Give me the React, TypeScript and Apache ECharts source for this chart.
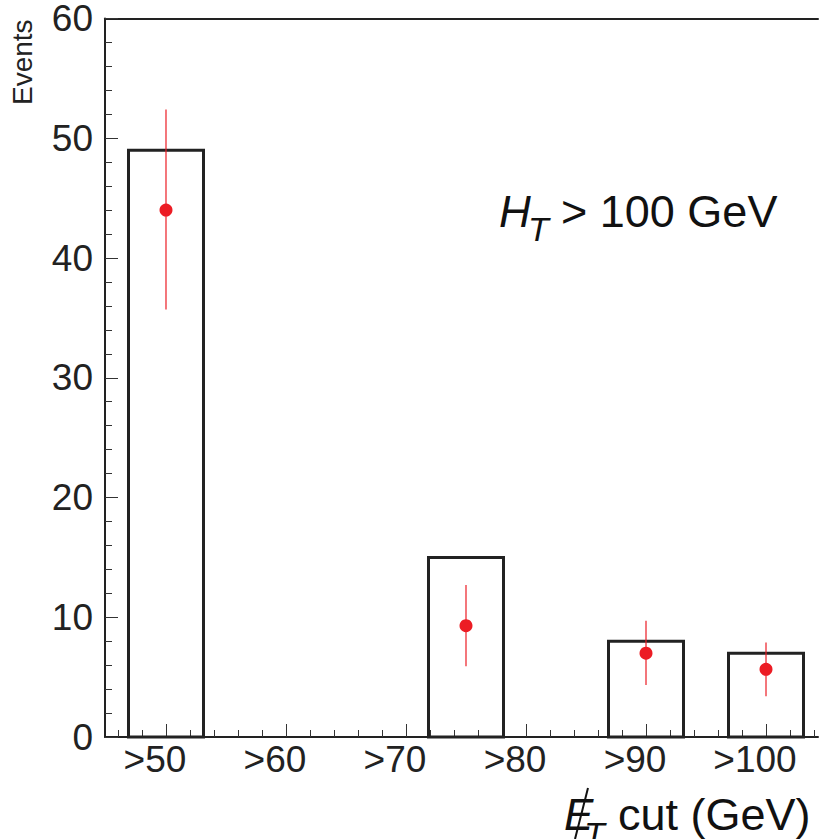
import React, { useEffect, useRef } from "react";
import * as echarts from "echarts";

// Data
const CUT_POSITIONS = [50, 60, 70, 80, 90, 100];
const CUT_LABELS = [">50", ">60", ">70", ">80", ">90", ">100"];
const MINOR_TICK_POSITIONS = [46, 48, 50, 52, 54, 56, 58, 60, 62, 64, 66, 68, 70, 72, 74, 76, 78, 80, 82, 84, 86, 88, 90, 92, 94, 96, 98, 100, 102, 104];
const BAR_CENTERS = [50, 75, 90, 100];
const BAR_VALUES = [49, 15, 8, 7];
const BAR_WIDTH = 6.25;
const POINT_VALUES = [44, 9.3, 7.0, 5.65];
const ERR_LOW = [35.7, 5.9, 4.35, 3.4];
const ERR_HIGH = [52.4, 12.7, 9.7, 7.9];

const FONT = "'Liberation Sans', Arial, Helvetica, sans-serif";
const X_MIN = 44.917;
const X_MAX = 104.333;
const RED = "#ec1c24";

export default function App() {
  const ref = useRef<HTMLDivElement>(null);
  useEffect(() => {
    if (!ref.current) return;
    const chart = echarts.init(ref.current, null, { renderer: "svg" });
    const axisLine = { show: true, onZero: false, lineStyle: { color: "#222", width: 2 } };
    const option: any = {
      animation: false,
      backgroundColor: "#fff",
      grid: { left: 105, right: 1, top: 18, bottom: 102 },
      xAxis: [
        {
          type: "value",
          position: "bottom",
          min: X_MIN,
          max: X_MAX,
          axisLine,
          splitLine: { show: false },
          axisTick: { show: true, inside: true, length: 13, customValues: CUT_POSITIONS, lineStyle: { color: "#333", width: 1 } },
          axisLabel: {
            show: true,
            customValues: CUT_POSITIONS,
            formatter: (v: number) => CUT_LABELS[CUT_POSITIONS.indexOf(Math.round(v))] ?? "",
            fontSize: 37,
            fontFamily: FONT,
            color: "#222",
            margin: 4,
            padding: [0, 22, 0, 0],
          },
        },
        {
          type: "value",
          position: "bottom",
          min: X_MIN,
          max: X_MAX,
          axisLine: { show: false, onZero: false },
          splitLine: { show: false },
          axisTick: { show: true, inside: true, length: 7, customValues: MINOR_TICK_POSITIONS, lineStyle: { color: "#333", width: 1 } },
          axisLabel: { show: false },
        },
        {
          type: "value",
          position: "top",
          min: X_MIN,
          max: X_MAX,
          axisLine,
          splitLine: { show: false },
          axisTick: { show: false },
          axisLabel: { show: false },
        },
      ],
      yAxis: {
        type: "value",
        min: 0,
        max: 60,
        interval: 10,
        axisLine,
        splitLine: { show: false },
        axisTick: { show: true, inside: true, length: 13, lineStyle: { color: "#333", width: 1 } },
        minorTick: { show: true, splitNumber: 5, length: 7, lineStyle: { color: "#333", width: 1 } },
        axisLabel: { fontSize: 37, fontFamily: FONT, color: "#222", margin: 12 },
      },
      series: [
        {
          type: "custom",
          xAxisIndex: 0,
          clip: false,
          data: BAR_CENTERS.map((c, i) => [c, BAR_VALUES[i]]),
          renderItem: (params: any, api: any) => {
            const c = api.value(0);
            const v = api.value(1);
            const p0 = api.coord([c - BAR_WIDTH / 2, 0]);
            const p1 = api.coord([c + BAR_WIDTH / 2, v]);
            return {
              type: "rect",
              shape: { x: p0[0], y: p1[1], width: p1[0] - p0[0], height: p0[1] - p1[1] },
              style: { fill: "none", stroke: "#222", lineWidth: 3 },
            };
          },
        },
        {
          type: "custom",
          xAxisIndex: 0,
          clip: false,
          data: BAR_CENTERS.map((c, i) => [c, ERR_LOW[i], ERR_HIGH[i]]),
          renderItem: (params: any, api: any) => {
            const c = api.value(0);
            const p0 = api.coord([c, api.value(1)]);
            const p1 = api.coord([c, api.value(2)]);
            return {
              type: "line",
              shape: { x1: p0[0], y1: p0[1], x2: p1[0], y2: p1[1] },
              style: { stroke: RED, lineWidth: 1.2, opacity: 1 },
            };
          },
        },
        {
          type: "scatter",
          xAxisIndex: 0,
          symbol: "circle",
          symbolSize: 13,
          itemStyle: { color: RED, opacity: 1 },
          data: BAR_CENTERS.map((c, i) => [c, POINT_VALUES[i]]),
        },
      ],
      graphic: [
        {
          type: "text",
          x: 22,
          y: 105,
          rotation: Math.PI / 2,
          style: { text: "Events", fontSize: 28, fontFamily: FONT, fill: "#222", align: "left", verticalAlign: "middle" },
        },
        { type: "text", x: 499, y: 211.5, style: { text: "H", fontSize: 44, fontStyle: "italic", fontFamily: FONT, fill: "#111", align: "left", verticalAlign: "middle" } },
        { type: "text", x: 528, y: 228.5, style: { text: "T", fontSize: 34, fontStyle: "italic", fontFamily: FONT, fill: "#111", align: "left", verticalAlign: "middle" } },
        { type: "text", x: 561, y: 211.5, style: { text: "> 100 GeV", fontSize: 45, fontFamily: FONT, fill: "#111", align: "left", verticalAlign: "middle" } },
        { type: "text", x: 564, y: 814.5, style: { text: "E", fontSize: 44, fontStyle: "italic", fontFamily: FONT, fill: "#111", align: "left", verticalAlign: "middle" } },
        { type: "text", x: 584, y: 834, style: { text: "T", fontSize: 34, fontStyle: "italic", fontFamily: FONT, fill: "#111", align: "left", verticalAlign: "middle" } },
        { type: "line", shape: { x1: 588, y1: 788, x2: 575, y2: 839 }, style: { stroke: "#111", lineWidth: 2 } },
        { type: "text", x: 618, y: 814.5, style: { text: "cut (GeV)", fontSize: 45, fontFamily: FONT, fill: "#111", align: "left", verticalAlign: "middle" } },
      ],
    };
    chart.setOption(option);
    return () => chart.dispose();
  }, []);
  return <div ref={ref} style={{ position: "absolute", left: 0, top: 0, width: 819, height: 839 }} />;
}
